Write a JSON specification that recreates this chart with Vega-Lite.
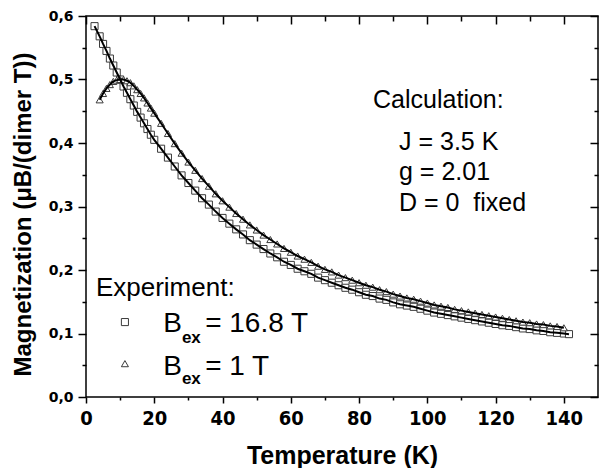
{
  "$schema": "https://vega.github.io/schema/vega-lite/v6.json",
  "width": 512,
  "height": 381,
  "autosize": {"type": "none"},
  "padding": {"left": 86, "top": 16, "right": 1, "bottom": 71},
  "background": "white",
  "config": {
    "view": {"stroke": "black", "strokeWidth": 1.5},
    "axis": {"grid": false, "domain": false, "tickColor": "black", "tickWidth": 1.5, "labelColor": "black", "titleColor": "black", "labelOverlap": false, "labelFlush": false, "labelBound": false}
  },
  "datasets": {
    "exp": [
      {"T": 2.5, "M": 0.584, "B": "16.8 T"}, {"T": 4, "M": 0.568, "B": "16.8 T"}, {"T": 5, "M": 0.556, "B": "16.8 T"}, {"T": 6, "M": 0.545, "B": "16.8 T"}, {"T": 7, "M": 0.533, "B": "16.8 T"}, {"T": 8, "M": 0.522, "B": "16.8 T"}, {"T": 9, "M": 0.511, "B": "16.8 T"}, {"T": 10, "M": 0.5, "B": "16.8 T"}, {"T": 11, "M": 0.489, "B": "16.8 T"}, {"T": 12, "M": 0.479, "B": "16.8 T"}, {"T": 13, "M": 0.469, "B": "16.8 T"}, {"T": 14, "M": 0.459, "B": "16.8 T"}, {"T": 15, "M": 0.449, "B": "16.8 T"}, {"T": 16, "M": 0.44, "B": "16.8 T"}, {"T": 17, "M": 0.431, "B": "16.8 T"}, {"T": 18, "M": 0.422, "B": "16.8 T"}, {"T": 19, "M": 0.413, "B": "16.8 T"}, {"T": 20, "M": 0.405, "B": "16.8 T"},
      {"T": 22, "M": 0.391, "B": "16.8 T"}, {"T": 24, "M": 0.377, "B": "16.8 T"}, {"T": 26, "M": 0.363, "B": "16.8 T"}, {"T": 28, "M": 0.349, "B": "16.8 T"}, {"T": 30, "M": 0.337, "B": "16.8 T"}, {"T": 32, "M": 0.325, "B": "16.8 T"}, {"T": 34, "M": 0.313, "B": "16.8 T"}, {"T": 36, "M": 0.303, "B": "16.8 T"}, {"T": 38, "M": 0.292, "B": "16.8 T"}, {"T": 40, "M": 0.282, "B": "16.8 T"},
      {"T": 42, "M": 0.273, "B": "16.8 T"}, {"T": 44, "M": 0.264, "B": "16.8 T"}, {"T": 46, "M": 0.256, "B": "16.8 T"}, {"T": 48, "M": 0.247, "B": "16.8 T"}, {"T": 50, "M": 0.24, "B": "16.8 T"}, {"T": 52, "M": 0.233, "B": "16.8 T"}, {"T": 54, "M": 0.226, "B": "16.8 T"}, {"T": 56, "M": 0.22, "B": "16.8 T"}, {"T": 58, "M": 0.213, "B": "16.8 T"}, {"T": 60, "M": 0.208, "B": "16.8 T"},
      {"T": 62, "M": 0.202, "B": "16.8 T"}, {"T": 64, "M": 0.198, "B": "16.8 T"}, {"T": 66, "M": 0.194, "B": "16.8 T"}, {"T": 68, "M": 0.188, "B": "16.8 T"}, {"T": 70, "M": 0.184, "B": "16.8 T"}, {"T": 72, "M": 0.18, "B": "16.8 T"}, {"T": 74, "M": 0.176, "B": "16.8 T"}, {"T": 76, "M": 0.172, "B": "16.8 T"}, {"T": 78, "M": 0.169, "B": "16.8 T"}, {"T": 80, "M": 0.165, "B": "16.8 T"},
      {"T": 82, "M": 0.161, "B": "16.8 T"}, {"T": 84, "M": 0.159, "B": "16.8 T"}, {"T": 86, "M": 0.155, "B": "16.8 T"}, {"T": 88, "M": 0.153, "B": "16.8 T"}, {"T": 90, "M": 0.149, "B": "16.8 T"}, {"T": 92, "M": 0.146, "B": "16.8 T"}, {"T": 94, "M": 0.144, "B": "16.8 T"}, {"T": 96, "M": 0.142, "B": "16.8 T"}, {"T": 98, "M": 0.139, "B": "16.8 T"}, {"T": 100, "M": 0.136, "B": "16.8 T"},
      {"T": 102, "M": 0.133, "B": "16.8 T"}, {"T": 104, "M": 0.131, "B": "16.8 T"}, {"T": 106, "M": 0.129, "B": "16.8 T"}, {"T": 108, "M": 0.127, "B": "16.8 T"}, {"T": 110, "M": 0.125, "B": "16.8 T"}, {"T": 112, "M": 0.123, "B": "16.8 T"}, {"T": 114, "M": 0.121, "B": "16.8 T"}, {"T": 116, "M": 0.119, "B": "16.8 T"}, {"T": 118, "M": 0.117, "B": "16.8 T"}, {"T": 120, "M": 0.115, "B": "16.8 T"},
      {"T": 122, "M": 0.113, "B": "16.8 T"}, {"T": 124, "M": 0.112, "B": "16.8 T"}, {"T": 126, "M": 0.11, "B": "16.8 T"}, {"T": 128, "M": 0.108, "B": "16.8 T"}, {"T": 130, "M": 0.107, "B": "16.8 T"}, {"T": 132, "M": 0.105, "B": "16.8 T"}, {"T": 134, "M": 0.104, "B": "16.8 T"}, {"T": 136, "M": 0.102, "B": "16.8 T"}, {"T": 138, "M": 0.101, "B": "16.8 T"}, {"T": 140, "M": 0.1, "B": "16.8 T"}, {"T": 141.5, "M": 0.099, "B": "16.8 T"},
      {"T": 4, "M": 0.468, "B": "1 T"}, {"T": 5, "M": 0.478, "B": "1 T"}, {"T": 6, "M": 0.486, "B": "1 T"}, {"T": 7, "M": 0.492, "B": "1 T"}, {"T": 8, "M": 0.497, "B": "1 T"}, {"T": 9, "M": 0.499, "B": "1 T"}, {"T": 10, "M": 0.5, "B": "1 T"}, {"T": 11, "M": 0.5, "B": "1 T"}, {"T": 12, "M": 0.498, "B": "1 T"}, {"T": 13, "M": 0.495, "B": "1 T"}, {"T": 14, "M": 0.49, "B": "1 T"}, {"T": 15, "M": 0.484, "B": "1 T"}, {"T": 16, "M": 0.478, "B": "1 T"}, {"T": 17, "M": 0.471, "B": "1 T"}, {"T": 18, "M": 0.463, "B": "1 T"}, {"T": 19, "M": 0.455, "B": "1 T"}, {"T": 20, "M": 0.447, "B": "1 T"},
      {"T": 22, "M": 0.431, "B": "1 T"}, {"T": 24, "M": 0.415, "B": "1 T"}, {"T": 26, "M": 0.399, "B": "1 T"}, {"T": 28, "M": 0.384, "B": "1 T"}, {"T": 30, "M": 0.37, "B": "1 T"}, {"T": 32, "M": 0.357, "B": "1 T"}, {"T": 34, "M": 0.344, "B": "1 T"}, {"T": 36, "M": 0.332, "B": "1 T"}, {"T": 38, "M": 0.32, "B": "1 T"}, {"T": 40, "M": 0.309, "B": "1 T"},
      {"T": 42, "M": 0.299, "B": "1 T"}, {"T": 44, "M": 0.289, "B": "1 T"}, {"T": 46, "M": 0.28, "B": "1 T"}, {"T": 48, "M": 0.271, "B": "1 T"}, {"T": 50, "M": 0.263, "B": "1 T"}, {"T": 52, "M": 0.255, "B": "1 T"}, {"T": 54, "M": 0.248, "B": "1 T"}, {"T": 56, "M": 0.241, "B": "1 T"}, {"T": 58, "M": 0.234, "B": "1 T"}, {"T": 60, "M": 0.228, "B": "1 T"},
      {"T": 62, "M": 0.222, "B": "1 T"}, {"T": 64, "M": 0.217, "B": "1 T"}, {"T": 66, "M": 0.212, "B": "1 T"}, {"T": 68, "M": 0.206, "B": "1 T"}, {"T": 70, "M": 0.201, "B": "1 T"}, {"T": 72, "M": 0.197, "B": "1 T"}, {"T": 74, "M": 0.192, "B": "1 T"}, {"T": 76, "M": 0.188, "B": "1 T"}, {"T": 78, "M": 0.184, "B": "1 T"}, {"T": 80, "M": 0.18, "B": "1 T"},
      {"T": 82, "M": 0.176, "B": "1 T"}, {"T": 84, "M": 0.173, "B": "1 T"}, {"T": 86, "M": 0.169, "B": "1 T"}, {"T": 88, "M": 0.166, "B": "1 T"}, {"T": 90, "M": 0.162, "B": "1 T"}, {"T": 92, "M": 0.159, "B": "1 T"}, {"T": 94, "M": 0.156, "B": "1 T"}, {"T": 96, "M": 0.154, "B": "1 T"}, {"T": 98, "M": 0.151, "B": "1 T"}, {"T": 100, "M": 0.148, "B": "1 T"},
      {"T": 102, "M": 0.145, "B": "1 T"}, {"T": 104, "M": 0.143, "B": "1 T"}, {"T": 106, "M": 0.141, "B": "1 T"}, {"T": 108, "M": 0.138, "B": "1 T"}, {"T": 110, "M": 0.136, "B": "1 T"}, {"T": 112, "M": 0.134, "B": "1 T"}, {"T": 114, "M": 0.132, "B": "1 T"}, {"T": 116, "M": 0.13, "B": "1 T"}, {"T": 118, "M": 0.128, "B": "1 T"}, {"T": 120, "M": 0.126, "B": "1 T"},
      {"T": 122, "M": 0.124, "B": "1 T"}, {"T": 124, "M": 0.122, "B": "1 T"}, {"T": 126, "M": 0.12, "B": "1 T"}, {"T": 128, "M": 0.118, "B": "1 T"}, {"T": 130, "M": 0.117, "B": "1 T"}, {"T": 132, "M": 0.115, "B": "1 T"}, {"T": 134, "M": 0.114, "B": "1 T"}, {"T": 136, "M": 0.112, "B": "1 T"}, {"T": 138, "M": 0.111, "B": "1 T"}, {"T": 140, "M": 0.109, "B": "1 T"}
    ],
    "legendrows": [
      {"T": 11.4, "M": 0.118, "B": "16.8 T"},
      {"T": 11.4, "M": 0.0525, "B": "1 T"}
    ],
    "calc": [
      {"T": 84.1, "M": 0.455, "label": "Calculation:"},
      {"T": 91.7, "M": 0.3896, "label": "J = 3.5 K"},
      {"T": 91.7, "M": 0.3424, "label": "g = 2.01"},
      {"T": 91.7, "M": 0.2929, "label": "D = 0\u00a0 fixed"}
    ],
    "expt": [
      {"T": 2.9, "M": 0.1585, "label": "Experiment:"}
    ],
    "bl": [
      {"T": 22.6, "M": 0.1024, "label": "B"},
      {"T": 34.9, "M": 0.1024, "label": "= 16.8 T"},
      {"T": 22.6, "M": 0.0353, "label": "B"},
      {"T": 34.9, "M": 0.0353, "label": "= 1 T"}
    ],
    "ex": [
      {"T": 28.1, "M": 0.085, "label": "ex"},
      {"T": 28.1, "M": 0.02, "label": "ex"}
    ]
  },
  "resolve": {"axis": {"x": "independent", "y": "independent"}},
  "layer": [
    {
      "data": {"name": "exp"},
      "mark": {"type": "point", "filled": true, "color": "white", "stroke": "#3a3a3a", "strokeWidth": 1, "size": 50, "opacity": 1},
      "encoding": {
        "x": {"field": "T", "type": "quantitative", "scale": {"domain": [0, 150], "nice": false, "zero": false},
          "axis": {"orient": "bottom", "values": [0, 20, 40, 60, 80, 100, 120, 140], "tickSize": 6, "labelFont": "Liberation Sans Narrow, DejaVu Sans Condensed, sans-serif", "labelFontWeight": "bold", "labelFontSize": 20, "labelPadding": 5,
            "title": "Temperature (K)", "titleFont": "Liberation Sans", "titleFontSize": 25, "titleFontWeight": "bold", "titleY": 66, "titleBaseline": "alphabetic"}},
        "y": {"field": "M", "type": "quantitative", "scale": {"domain": [0, 0.6], "nice": false, "zero": false},
          "axis": {"orient": "left", "values": [0, 0.1, 0.2, 0.3, 0.4, 0.5, 0.6], "tickSize": 8, "labelExpr": "replace(format(datum.value, '.1f'), '.', ',')", "labelFont": "DejaVu Sans", "labelFontWeight": "bold", "labelFontSize": 14, "labelPadding": 5,
            "title": "Magnetization (μB/(dimer T))", "titleFont": "Liberation Sans", "titleFontSize": 24, "titleFontWeight": "bold", "titleX": -56, "titleY": 198, "titleBaseline": "alphabetic", "titleAngle": -90, "titleAlign": "center"}},
        "shape": {"field": "B", "type": "nominal", "scale": {"domain": ["16.8 T", "1 T"], "range": ["square", "triangle-up"]}, "legend": null}
      }
    },
    {
      "data": {"name": "exp"},
      "mark": {"type": "line", "color": "black", "strokeWidth": 2},
      "encoding": {
        "x": {"field": "T", "type": "quantitative", "scale": {"domain": [0, 150], "nice": false, "zero": false},
          "axis": {"orient": "bottom", "values": [10, 30, 50, 70, 90, 110, 130], "tickSize": 3, "labels": false, "title": null}},
        "y": {"field": "M", "type": "quantitative", "scale": {"domain": [0, 0.6], "nice": false, "zero": false},
          "axis": {"orient": "left", "values": [0.05, 0.15, 0.25, 0.35, 0.45, 0.55], "tickSize": 4, "labels": false, "title": null}},
        "detail": {"field": "B", "type": "nominal"}
      }
    },
    {
      "data": {"name": "legendrows"},
      "mark": {"type": "point", "filled": true, "color": "white", "stroke": "#3a3a3a", "strokeWidth": 1, "size": 50, "opacity": 1},
      "encoding": {
        "x": {"field": "T", "type": "quantitative", "scale": {"domain": [0, 150], "nice": false, "zero": false},
          "axis": {"orient": "top", "values": [0, 20, 40, 60, 80, 100, 120, 140], "tickSize": -8, "labels": false, "title": null}},
        "y": {"field": "M", "type": "quantitative", "scale": {"domain": [0, 0.6], "nice": false, "zero": false},
          "axis": {"orient": "right", "values": [0, 0.1, 0.2, 0.3, 0.4, 0.5, 0.6], "tickSize": -8, "labels": false, "title": null}},
        "shape": {"field": "B", "type": "nominal", "scale": {"domain": ["16.8 T", "1 T"], "range": ["square", "triangle-up"]}, "legend": null}
      }
    },
    {
      "data": {"name": "calc"},
      "mark": {"type": "text", "align": "left", "baseline": "alphabetic", "font": "Liberation Sans", "fontSize": 25, "color": "black"},
      "encoding": {
        "x": {"field": "T", "type": "quantitative", "scale": {"domain": [0, 150], "nice": false, "zero": false},
          "axis": {"orient": "top", "values": [10, 30, 50, 70, 90, 110, 130], "tickSize": -5, "labels": false, "title": null}},
        "y": {"field": "M", "type": "quantitative", "scale": {"domain": [0, 0.6], "nice": false, "zero": false},
          "axis": {"orient": "right", "values": [0.05, 0.15, 0.25, 0.35, 0.45, 0.55], "tickSize": -4, "labels": false, "title": null}},
        "text": {"field": "label", "type": "nominal"}
      }
    },
    {
      "data": {"name": "expt"},
      "mark": {"type": "text", "align": "left", "baseline": "alphabetic", "font": "Liberation Sans", "fontSize": 26, "color": "black"},
      "encoding": {
        "x": {"field": "T", "type": "quantitative", "scale": {"domain": [0, 150], "nice": false, "zero": false}, "axis": null},
        "y": {"field": "M", "type": "quantitative", "scale": {"domain": [0, 0.6], "nice": false, "zero": false}, "axis": null},
        "text": {"field": "label", "type": "nominal"}
      }
    },
    {
      "data": {"name": "bl"},
      "mark": {"type": "text", "align": "left", "baseline": "alphabetic", "font": "Liberation Sans", "fontSize": 28, "color": "black"},
      "encoding": {
        "x": {"field": "T", "type": "quantitative", "scale": {"domain": [0, 150], "nice": false, "zero": false}, "axis": null},
        "y": {"field": "M", "type": "quantitative", "scale": {"domain": [0, 0.6], "nice": false, "zero": false}, "axis": null},
        "text": {"field": "label", "type": "nominal"}
      }
    },
    {
      "data": {"name": "ex"},
      "mark": {"type": "text", "align": "left", "baseline": "alphabetic", "font": "Liberation Sans", "fontSize": 17, "fontWeight": "bold", "color": "black"},
      "encoding": {
        "x": {"field": "T", "type": "quantitative", "scale": {"domain": [0, 150], "nice": false, "zero": false}, "axis": null},
        "y": {"field": "M", "type": "quantitative", "scale": {"domain": [0, 0.6], "nice": false, "zero": false}, "axis": null},
        "text": {"field": "label", "type": "nominal"}
      }
    }
  ]
}
